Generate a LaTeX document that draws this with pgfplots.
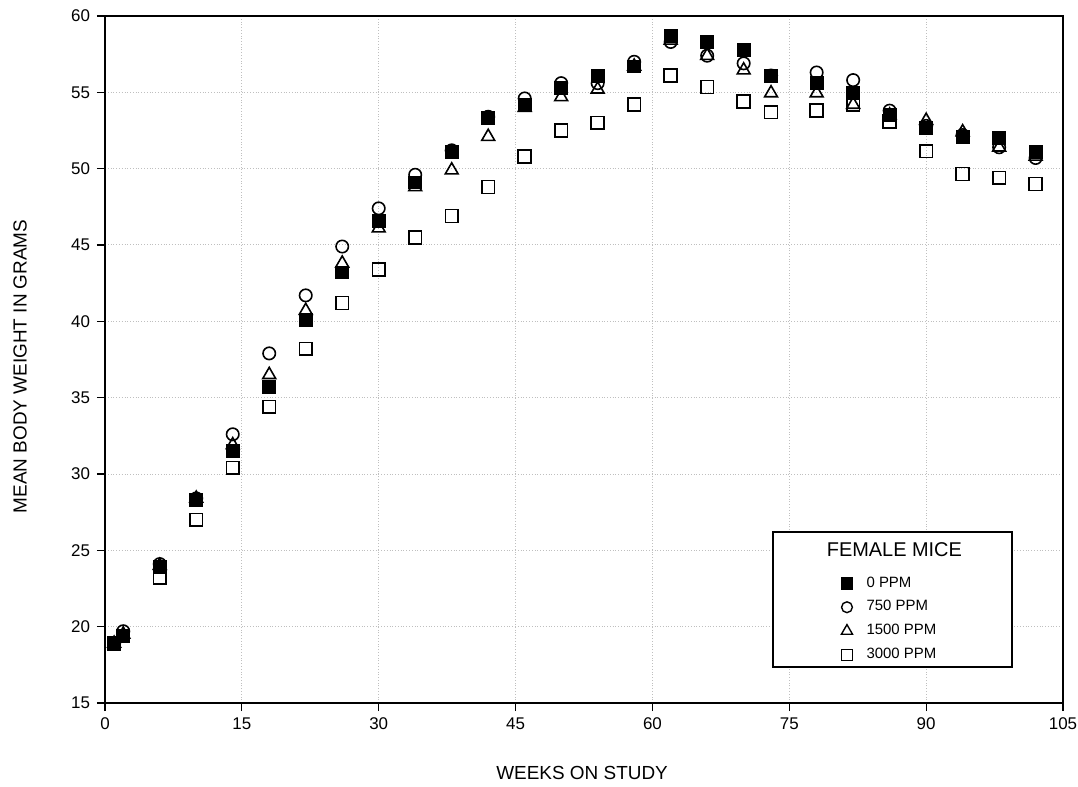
\documentclass[border=0pt]{standalone}
\usepackage{pgfplots}
\usepackage{pgfplotstable}
\pgfplotsset{compat=1.18}
\usepackage{fontspec}
\setmainfont{Liberation Sans}

\pgfplotstableread{
w   p0   p750 p1500 p3000
1   18.9 18.9 18.9  18.9
2   19.4 19.7 19.5  19.4
6   23.9 24.1 24.0  23.2
10  28.3 28.4 28.4  27.0
14  31.5 32.6 31.9  30.4
18  35.7 37.9 36.5  34.4
22  40.1 41.7 40.7  38.2
26  43.2 44.9 43.8  41.2
30  46.6 47.4 46.1  43.4
34  49.1 49.6 48.8  45.5
38  51.1 51.2 49.9  46.9
42  53.3 53.4 52.1  48.8
46  54.2 54.6 54.0  50.8
50  55.3 55.6 54.7  52.5
54  56.1 55.6 55.2  53.0
58  56.7 57.0 56.7  54.2
62  58.7 58.3 58.4  56.1
66  58.3 57.4 57.4  55.35
70  57.8 56.9 56.45 54.4
73  56.1 56.1 54.95 53.7
78  55.6 56.3 54.95 53.8
82  54.95 55.8 54.2 54.2
86  53.5 53.8 53.5  53.1
90  52.65 52.8 53.15 51.15
94  52.1 52.2 52.4  49.65
98  52.0 51.4 51.4  49.4
102 51.1 50.7 50.8  49.0
}\micedata

\begin{document}
\begin{tikzpicture}
\path[use as bounding box] (-52.5bp,-42bp) rectangle (486.5bp,351.5bp);
\begin{axis}[
  at={(0,0)}, anchor=south west,
  scale only axis, width=479bp, height=343.5bp,
  xmin=0, xmax=105, ymin=15, ymax=60,
  xtick={0,15,...,105}, ytick={15,20,...,60},
  tick align=outside, xtick pos=bottom, ytick pos=left,
  major tick length=4bp,
  axis line style={line width=1.1bp},
  every tick/.style={black, line width=0.6bp},
  grid=major, grid style={densely dotted, gray!50, line width=0.5bp},
  tick label style={font=\fontsize{8.5}{10}\selectfont},
  /pgf/number format/assume math mode=true,
  xlabel={WEEKS ON STUDY}, ylabel={MEAN BODY WEIGHT IN GRAMS},
  label style={font=\fontsize{9.5}{11}\selectfont},
  xlabel style={at={(axis description cs:0.498,-0.102)}, anchor=center},
  ylabel style={at={(axis description cs:-0.0887,0.49)}, anchor=center},
  legend style={draw=none, fill=none, at={(rel axis cs:0.762,0.196)}, anchor=north west,
    font=\fontsize{7.5}{8.5}\selectfont, row sep=1.2bp,
    /tikz/every odd column/.append style={column sep=5bp}},
  legend cell align=left,
]
\addlegendimage{only marks, mark=square*, mark size=2.8bp, black}
\addlegendentry{0 PPM}
\addlegendimage{only marks, mark=o, mark size=2.7bp, black, mark options={line width=0.7bp}}
\addlegendentry{750 PPM}
\addlegendimage{only marks, mark=triangle, mark size=3.2bp, black, mark options={line width=0.7bp}}
\addlegendentry{1500 PPM}
\addlegendimage{only marks, mark=square, mark size=2.8bp, black, mark options={line width=0.7bp}}
\addlegendentry{3000 PPM}

\addplot[only marks, mark=square, mark size=3.2bp, black, mark options={line width=0.8bp}, forget plot] table[x=w,y=p3000]{\micedata};
\addplot[only marks, mark=triangle, mark size=3.7bp, black, mark options={line width=0.8bp}, forget plot] table[x=w,y=p1500]{\micedata};
\addplot[only marks, mark=o, mark size=3.1bp, black, mark options={line width=0.8bp}, forget plot] table[x=w,y=p750]{\micedata};
\addplot[only marks, mark=square*, mark size=3.2bp, black, forget plot] table[x=w,y=p0]{\micedata};

\draw[line width=0.9bp, fill=white] (rel axis cs:0.6973,0.0524) rectangle (rel axis cs:0.9468,0.2489);
\node[font=\fontsize{10}{12}\selectfont] at (rel axis cs:0.824,0.223) {FEMALE MICE};
\end{axis}
\end{tikzpicture}
\end{document}
